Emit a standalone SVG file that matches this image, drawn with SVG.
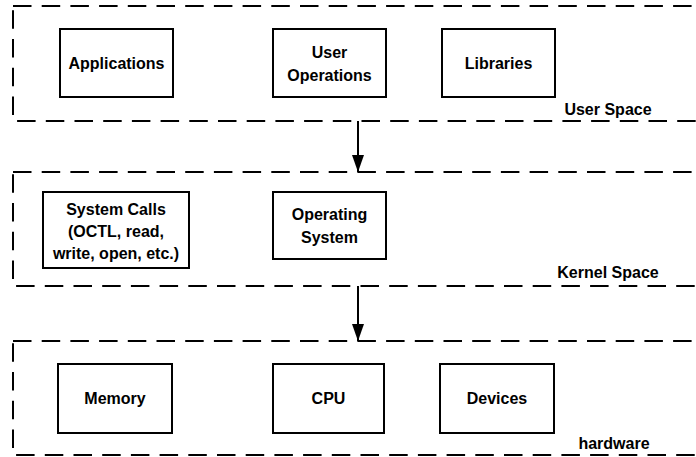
<svg xmlns="http://www.w3.org/2000/svg" width="696" height="457" viewBox="0 0 696 457">
<defs>
<style>
.region{fill:none;stroke:#000;stroke-width:2;stroke-dasharray:18.5 10.2}
.box{fill:#fff;stroke:#000;stroke-width:2}
.t{font-family:"Liberation Sans",Arial,sans-serif;font-weight:bold;font-size:16px;fill:#000;text-anchor:middle}
.edge{stroke:#000;stroke-width:2;fill:none}
</style>
<marker id="arr" markerWidth="17" markerHeight="12" refX="17" refY="6" orient="auto" markerUnits="userSpaceOnUse" viewBox="0 0 17 12">
<path d="M0,0 L17,6 L0,12 Z" fill="#000"/>
</marker>
</defs>
<rect width="696" height="457" fill="#fff"/>
<g id="user-space">
<rect class="region" x="13" y="6" width="700" height="115"/>
<text class="t" x="608" y="115">User Space</text>
</g>
<g id="kernel-space">
<rect class="region" x="13" y="172" width="700" height="114"/>
<text class="t" x="608" y="278">Kernel Space</text>
</g>
<g id="hardware">
<rect class="region" x="13" y="341" width="700" height="114"/>
<text class="t" x="614" y="449">hardware</text>
</g>
<g id="applications">
<rect class="box" x="60" y="29" width="113" height="68"/>
<text class="t" x="116.5" y="69">Applications</text>
</g>
<g id="user-operations">
<rect class="box" x="273" y="29" width="113" height="68"/>
<text class="t" x="329.5" y="58">User</text>
<text class="t" x="329.5" y="81">Operations</text>
</g>
<g id="libraries">
<rect class="box" x="442" y="29" width="113" height="68"/>
<text class="t" x="498.5" y="69">Libraries</text>
</g>
<g id="system-calls">
<rect class="box" x="43" y="192" width="146" height="76"/>
<text class="t" x="116" y="215">System Calls</text>
<text class="t" x="116" y="237">(OCTL, read,</text>
<text class="t" x="116" y="259">write, open, etc.)</text>
</g>
<g id="operating-system">
<rect class="box" x="273" y="192" width="113" height="67"/>
<text class="t" x="329.5" y="220">Operating</text>
<text class="t" x="329.5" y="243">System</text>
</g>
<g id="memory">
<rect class="box" x="58" y="364" width="114" height="69"/>
<text class="t" x="115" y="404">Memory</text>
</g>
<g id="cpu">
<rect class="box" x="273" y="364" width="111" height="69"/>
<text class="t" x="328.5" y="404">CPU</text>
</g>
<g id="devices">
<rect class="box" x="440" y="364" width="114" height="69"/>
<text class="t" x="497" y="404">Devices</text>
</g>
<g id="connectors">
<line class="edge" x1="358" y1="121" x2="358" y2="172" marker-end="url(#arr)"/>
<line class="edge" x1="358" y1="286" x2="358" y2="341" marker-end="url(#arr)"/>
</g>
</svg>
